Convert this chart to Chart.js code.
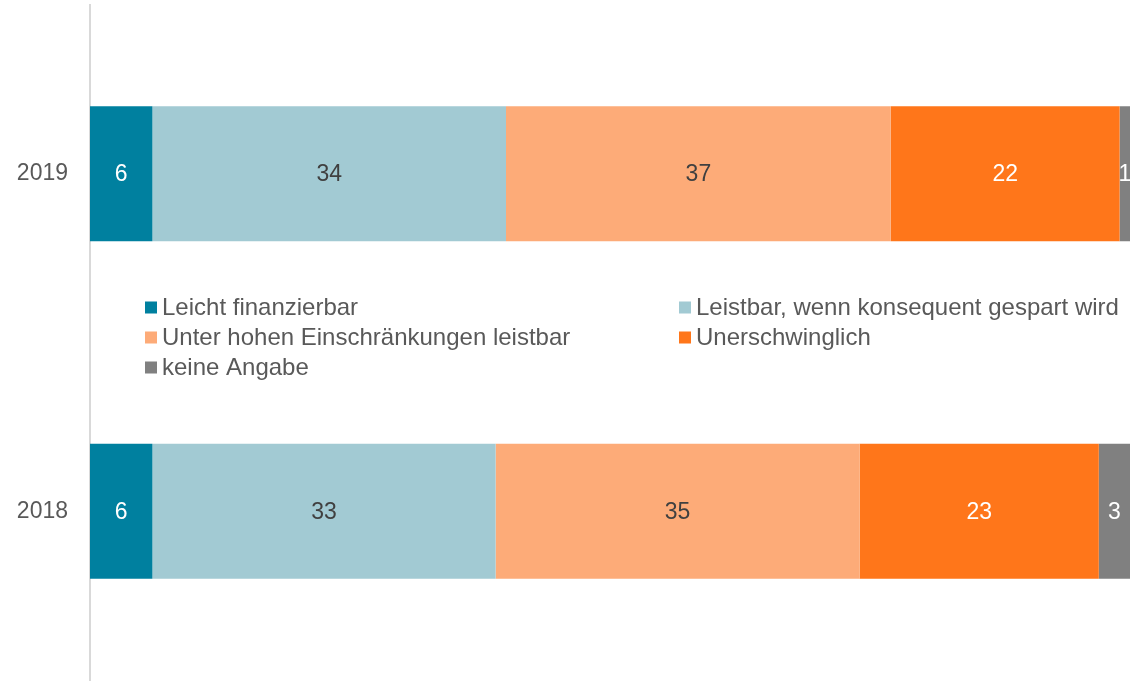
<!DOCTYPE html>
<html>
<head>
<meta charset="utf-8">
<script src="https://cdn.jsdelivr.net/npm/chart.js@4/dist/chart.umd.min.js"></script>
<style>
  html, body { margin: 0; padding: 0; background: #fff; overflow: hidden; }
  canvas { display: block; }
</style>
</head>
<body>
<canvas id="chart" width="1132" height="682"></canvas>
<script>
// Daten
const jahre = ['2019', '2018'];
const leichtFinanzierbar = [6, 6];
const leistbarSparen = [34, 33];
const unterEinschraenkungen = [37, 35];
const unerschwinglich = [22, 23];
const keineAngabe = [1, 3];

const serien = [
    { label: 'Leicht finanzierbar', data: leichtFinanzierbar, color: '#00809F', text: '#ffffff' },
    { label: 'Leistbar, wenn konsequent gespart wird', data: leistbarSparen, color: '#A2CAD3', text: '#404040' },
    { label: 'Unter hohen Einschränkungen leistbar', data: unterEinschraenkungen, color: '#FDAB78', text: '#404040' },
    { label: 'Unerschwinglich', data: unerschwinglich, color: '#FF761A', text: '#ffffff' },
    { label: 'keine Angabe', data: keineAngabe, color: '#808080', text: '#ffffff' }
];

const schrift = '"Liberation Sans", Arial, sans-serif';

// Werte in die Balken schreiben
const wertePlugin = {
    id: 'werte',
    afterDatasetsDraw(chart) {
        const c = chart.ctx;
        c.save();
        c.font = '23px ' + schrift;
        c.textAlign = 'center';
        c.textBaseline = 'middle';
        chart.data.datasets.forEach((ds, i) => {
            chart.getDatasetMeta(i).data.forEach((bar, j) => {
                const p = bar.getProps(['x', 'y', 'base'], true);
                c.fillStyle = serien[i].text;
                c.fillText(ds.data[j], (p.x + p.base) / 2, p.y + 1);
            });
        });
        c.restore();
    }
};

// Legende zwischen den Balken
const legendePlugin = {
    id: 'legendeMitte',
    afterDraw(chart) {
        const c = chart.ctx;
        const a = chart.chartArea;
        const mitte = (a.top + a.bottom) / 2;
        const spalten = [a.left + 55, a.left + 589];
        const zeilen = [mitte - 35, mitte - 5, mitte + 25];
        c.save();
        c.font = '24px ' + schrift;
        c.textBaseline = 'middle';
        c.textAlign = 'left';
        serien.forEach((s, i) => {
            const x = spalten[i % 2];
            const y = zeilen[Math.floor(i / 2)];
            c.fillStyle = s.color;
            c.fillRect(x, y - 6, 12, 12);
            c.fillStyle = '#595959';
            c.fillText(s.label, x + 17, y + 1);
        });
        c.restore();
    }
};

const ctx = document.getElementById('chart').getContext('2d');
const chart = new Chart(ctx, {
    type: 'bar',
    data: {
        labels: jahre,
        datasets: serien.map(s => ({
            label: s.label,
            data: s.data,
            backgroundColor: s.color,
            borderWidth: 0,
            categoryPercentage: 0.4,
            barPercentage: 1
        }))
    },
    options: {
        indexAxis: 'y',
        responsive: false,
        maintainAspectRatio: false,
        animation: false,
        layout: { padding: { top: 5, bottom: 2, right: 2, left: 0 } },
        plugins: {
            legend: { display: false },
            tooltip: { enabled: false }
        },
        scales: {
            x: {
                stacked: true,
                min: 0,
                max: 100,
                display: false
            },
            y: {
                stacked: true,
                grid: { display: false },
                border: { display: true, color: '#D9D9D9', width: 2 },
                ticks: {
                    color: '#595959',
                    font: { family: schrift, size: 23 },
                    padding: 14
                },
                afterFit(scale) {
                    scale.width = 90;
                    scale.paddingTop = 0;
                    scale.paddingBottom = 0;
                }
            }
        }
    },
    plugins: [wertePlugin, legendePlugin]
});
</script>
</body>
</html>
